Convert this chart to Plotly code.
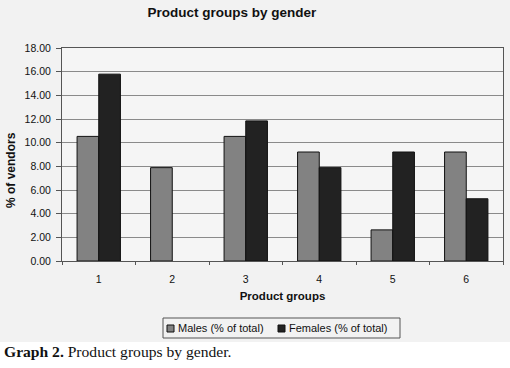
import plotly.graph_objects as go

categories = ["1", "2", "3", "4", "5", "6"]
males = [10.53, 7.89, 10.53, 9.21, 2.63, 9.21]
females = [15.79, 0.0, 11.84, 7.89, 9.21, 5.26]
y_ticks = [0, 2, 4, 6, 8, 10, 12, 14, 16, 18]
series_names = ["Males (% of total)", "Females (% of total)"]
series_colors = ["#828282", "#222222"]

W, H = 510, 368
L, R, T, B = 62, 7, 48, 107
PW, PH = W - L - R, H - T - B


def px(x):
    return (x - L) / PW


def py(y):
    return (H - B - y) / PH


fig = go.Figure()
for name, vals, col in zip(series_names, [males, females], series_colors):
    fig.add_trace(go.Bar(x=categories, y=vals, name=name, showlegend=False,
                         marker=dict(color=col,
                                     line=dict(color="#111111",
                                               width=[1 if v > 0 else 0 for v in vals]))))

font = "Liberation Sans, Arial, sans-serif"
fig.update_layout(
    width=W, height=H,
    margin=dict(l=L, r=R, t=T, b=B),
    paper_bgcolor="#f2f2f2", plot_bgcolor="#f5f5f5",
    barmode="group", bargap=0.41, bargroupgap=0,
    font=dict(family=font, size=10, color="#111111"),
    title=dict(text="<b>Product groups by gender</b>", x=232 / W, xanchor="center",
               y=1 - 12 / H, yanchor="middle", font=dict(size=13.5, family=font)),
    xaxis=dict(title=dict(text="<b>Product groups</b>", font=dict(size=11.5), standoff=8),
               showgrid=False, showline=True, linecolor="#555555", linewidth=1,
               ticks="outside", tickson="boundaries", ticklen=3, tickcolor="#555555",
               mirror=True, tickfont=dict(size=10.5), ticklabelstandoff=8),
    yaxis=dict(range=[0, 18], tickvals=y_ticks, tickformat=".2f",
               showgrid=True, gridcolor="#8a8a8a", gridwidth=1,
               showline=True, linecolor="#555555", linewidth=1, mirror=True,
               ticks="outside", ticklen=5, tickcolor="#555555", zeroline=False,
               ticklabelstandoff=3, tickfont=dict(size=10.5)),
)

# y-axis title
fig.add_annotation(text="<b>% of vendors</b>", xref="paper", yref="paper",
                   x=px(11), y=py(170), textangle=-90, showarrow=False,
                   xanchor="center", yanchor="middle", font=dict(size=12, family=font))

# legend box (drawn manually to match the compact reference legend)
fig.add_shape(type="rect", xref="paper", yref="paper", x0=px(163), x1=px(400),
              y0=py(338), y1=py(318), line=dict(color="#555555", width=1),
              fillcolor="#f2f2f2")
leg_x = [167, 278]
for name, col, lx in zip(series_names, series_colors, leg_x):
    fig.add_shape(type="rect", xref="paper", yref="paper", x0=px(lx), x1=px(lx + 7),
                  y0=py(332), y1=py(325), line=dict(color="#111111", width=1),
                  fillcolor=col)
    fig.add_annotation(text=name, xref="paper", yref="paper", x=px(lx + 9), y=py(328),
                       xanchor="left", yanchor="middle", showarrow=False,
                       font=dict(size=11, family=font))

# white caption strip and caption
fig.add_shape(type="rect", xref="paper", yref="paper", x0=px(0), x1=px(W),
              y0=py(H), y1=py(342), fillcolor="#ffffff", line_width=0, layer="below")
fig.add_annotation(text="<b>Graph 2.</b> Product groups by gender.",
                   xref="paper", yref="paper", x=px(2), xanchor="left",
                   y=py(351), yanchor="middle", showarrow=False,
                   font=dict(family="Liberation Serif, Times New Roman, serif", size=15.6,
                             color="#111111"))
fig.write_html("out.html", config={"displayModeBar": False},
               post_script="document.body.style.margin='0';document.body.style.overflow='hidden';")
